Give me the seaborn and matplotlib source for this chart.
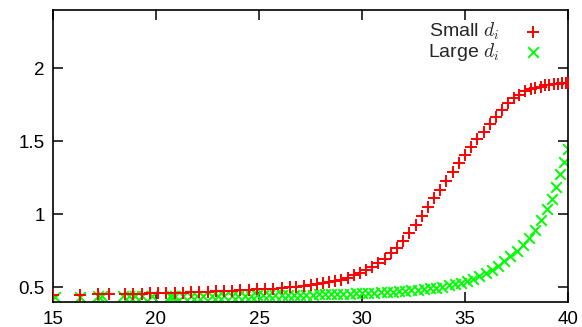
import matplotlib
matplotlib.use("Agg")
import matplotlib.pyplot as plt
import seaborn as sns
import pandas as pd

red_x = [15.0, 16.3, 17.2, 17.7, 18.5, 18.9, 19.3, 19.7, 20.1, 20.5, 20.9, 21.3, 21.7, 22.1, 22.5,
         22.9, 23.3, 23.7, 24.1, 24.5, 24.9, 25.3, 25.7, 26.1, 26.5, 26.8, 27.2, 27.5, 27.8, 28.1,
         28.4, 28.7, 29.0, 29.3, 29.6, 29.9, 30.2, 30.5, 30.8, 31.1, 31.4, 31.7, 32.0, 32.3, 32.6,
         32.9, 33.2, 33.5, 33.8, 34.1, 34.4, 34.7, 35.0, 35.3, 35.6, 35.9, 36.2, 36.5, 36.8, 37.1,
         37.4, 37.6, 37.9, 38.2, 38.4, 38.7, 38.9, 39.1, 39.3, 39.5, 39.7, 39.9, 40.0]
red_y = [0.448, 0.450, 0.452, 0.453, 0.455, 0.456, 0.458, 0.459, 0.461, 0.462, 0.464, 0.465, 0.467,
         0.469, 0.471, 0.473, 0.475, 0.477, 0.480, 0.483, 0.486, 0.489, 0.492, 0.496, 0.500, 0.504,
         0.509, 0.514, 0.520, 0.527, 0.534, 0.542, 0.551, 0.566, 0.582, 0.600, 0.620, 0.642, 0.667,
         0.697, 0.733, 0.772, 0.818, 0.870, 0.927, 0.990, 1.050, 1.110, 1.170, 1.230, 1.290, 1.350,
         1.410, 1.465, 1.515, 1.565, 1.620, 1.670, 1.715, 1.765, 1.800, 1.820, 1.845, 1.858, 1.866,
         1.876, 1.884, 1.889, 1.893, 1.896, 1.899, 1.901, 1.902]

green_x = [15.1, 16.3, 17.2, 17.4, 18.4, 18.7, 19.0, 19.3, 19.8, 20.7, 20.8, 20.9, 21.3, 21.7, 22.0,
           22.3, 22.7, 23.0, 23.3, 23.7, 24.0, 24.3, 24.6, 24.9, 25.2, 25.5, 25.8, 26.1, 26.4, 26.7,
           27.0, 27.3, 27.6, 27.9, 28.2, 28.5, 28.8, 29.1, 29.4, 29.7, 30.0, 30.3, 30.6, 30.9, 31.2,
           31.5, 31.8, 32.1, 32.4, 32.7, 33.0, 33.3, 33.6, 33.9, 34.2, 34.5, 34.8, 35.1, 35.4, 35.7,
           36.0, 36.3, 36.6, 36.9, 37.2, 37.5, 37.8, 38.1, 38.4, 38.7, 39.0, 39.2, 39.4, 39.6, 39.8,
           40.0]
green_y = [0.437, 0.437, 0.438, 0.438, 0.438, 0.438, 0.439, 0.439, 0.439, 0.440, 0.440, 0.440, 0.440,
           0.441, 0.441, 0.441, 0.442, 0.442, 0.442, 0.443, 0.443, 0.444, 0.444, 0.445, 0.445, 0.446,
           0.446, 0.447, 0.448, 0.448, 0.449, 0.450, 0.451, 0.452, 0.453, 0.454, 0.455, 0.456, 0.457,
           0.459, 0.460, 0.462, 0.464, 0.466, 0.468, 0.470, 0.473, 0.476, 0.479, 0.483, 0.488, 0.493,
           0.499, 0.506, 0.514, 0.523, 0.533, 0.545, 0.559, 0.576, 0.596, 0.620, 0.648, 0.680, 0.715,
           0.752, 0.792, 0.840, 0.893, 0.965, 1.040, 1.105, 1.190, 1.275, 1.360, 1.445]

labels = ["Small $d_i$", "Large $d_i$"]
x_ticks = [15, 20, 25, 30, 35, 40]
y_ticks = [0.5, 1, 1.5, 2]
y_tick_labels = ["0.5", "1", "1.5", "2"]

sns.set_theme(style="white")
plt.rcParams["font.family"] = ["Liberation Sans", "DejaVu Sans"]
plt.rcParams["mathtext.fontset"] = "cm"

fig = plt.figure(figsize=(5.82, 3.27), dpi=100)
ax = fig.add_axes([53 / 582, 25 / 327, 515 / 582, 292 / 327])

small = pd.DataFrame({"x": red_x, "y": red_y})
large = pd.DataFrame({"x": green_x, "y": green_y})

sns.scatterplot(data=small, x="x", y="y", marker="+", color="#ff0000", s=68,
                linewidth=1.4, ax=ax, label=labels[0], zorder=3)
sns.scatterplot(data=large, x="x", y="y", marker="x", color="#00ff00", s=58,
                linewidth=1.4, ax=ax, label=labels[1], zorder=2)

ax.set_xlim(15, 40)
ax.set_ylim(0.4, 2.4)
ax.set_xticks(x_ticks)
ax.set_xticklabels([str(t) for t in x_ticks])
ax.set_yticks(y_ticks)
ax.set_yticklabels(y_tick_labels)
ax.set_xlabel("")
ax.set_ylabel("")

for sp in ax.spines.values():
    sp.set_visible(True)
    sp.set_color("black")
    sp.set_linewidth(1.2)

ax.tick_params(axis="both", which="major", direction="in", length=7, width=1.1,
               color="black", labelsize=13.5, labelcolor="black",
               top=True, right=True, bottom=True, left=True)
ax.tick_params(axis="x", pad=6.5)
ax.tick_params(axis="y", pad=6)

leg = ax.legend(loc="upper right", bbox_to_anchor=(0.975, 1.0), frameon=False,
                markerfirst=False, fontsize=14, handletextpad=1.1, handlelength=1.2,
                labelspacing=-0.05, borderaxespad=0.15)

fig.savefig("out.png", dpi=100)
